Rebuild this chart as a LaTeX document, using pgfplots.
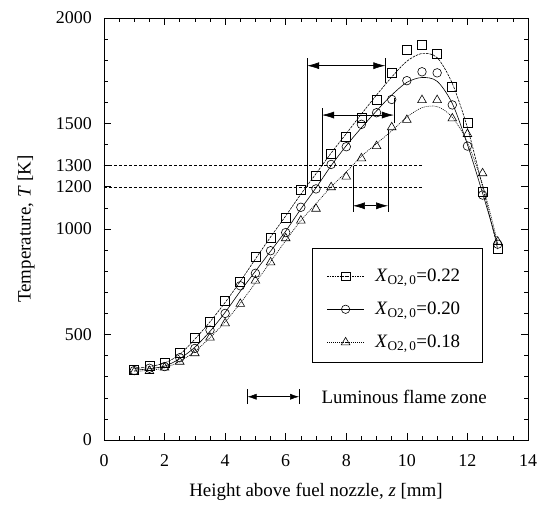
\documentclass[border=0pt]{standalone}
\usepackage{fontspec}
\setmainfont{Liberation Serif}
\usepackage{pgfplots}
\pgfplotsset{compat=1.18}
\usetikzlibrary{arrows.meta}

\begin{document}
\begin{tikzpicture}
\path[use as bounding box] (-104bp,-65bp) rectangle (437bp,440bp);
\begin{axis}[
  at={(0,0)}, anchor=south west,
  scale only axis, width=424bp, height=422bp,
  xmin=0, xmax=14, ymin=0, ymax=2000,
  xtick={0,2,...,14},
  minor xtick={0.5,1,...,13.5},
  ytick={0,500,1000,1200,1300,1500,2000},
  minor ytick={100,200,...,1900},
  tick align=inside, tick pos=both,
  major tick length=7bp, minor tick length=4bp,
  every tick/.style={black, line width=0.6pt},
  axis line style={line width=0.8pt},
  /pgf/number format/assume math mode=true,
  /pgf/number format/1000 sep={},
  ticklabel style={font=\fontsize{18}{20}\selectfont},
  xticklabel style={anchor=north, inner sep=0pt, yshift=-14bp},
  yticklabel style={anchor=east, inner sep=0pt, xshift=-12bp},
  xlabel={Height above fuel nozzle, \textit{z} [mm]},
  ylabel={Temperature, \textit{T} [K]},
  label style={font=\fontsize{19}{22}\selectfont},
  xlabel style={at={(axis description cs:0.5,-0.123)}, anchor=center},
  ylabel style={at={(axis description cs:-0.184,0.5)}, anchor=center},
  legend style={at={(axis cs:7.35,820)}, anchor=north west, draw=none, fill=none,
    font=\fontsize{19}{21}\selectfont, row sep=15bp, inner sep=0pt,
    /tikz/every odd column/.append style={column sep=9bp}},
  legend cell align=left,
  legend image code/.code={\draw[mark repeat=2,mark phase=2,#1] plot coordinates {(0bp,0bp) (18.5bp,0bp) (37bp,0bp)};},
]
% fitted curves
\addplot[black, line width=0.6pt, dash pattern=on 2.5bp off 1bp, smooth, forget plot] coordinates {
(1,338)(1.5,348)(2,365)(2.5,405)(3,478)(3.5,560)(4,652)(4.5,752)(5,858)(5.5,962)(6,1062)(6.5,1165)(7,1262)(7.5,1360)(8,1452)(8.5,1545)(9,1635)(9.5,1720)(10,1795)(10.5,1832)(11,1812)(11.5,1690)(12,1480)(12.5,1200)(13,905)};
\addplot[black, line width=0.6pt, smooth, forget plot] coordinates {
(1,330)(1.5,338)(2,350)(2.5,385)(3,440)(3.5,515)(4,605)(4.5,705)(5,800)(5.5,895)(6,990)(6.5,1095)(7,1195)(7.5,1300)(8,1395)(8.5,1480)(9,1560)(9.5,1635)(10,1695)(10.5,1718)(11,1700)(11.5,1595)(12,1400)(12.5,1170)(13,925)};
\addplot[black, line width=0.6pt, dash pattern=on 1bp off 1bp, smooth, forget plot] coordinates {
(1,325)(1.5,330)(2,342)(2.5,372)(3,420)(3.5,485)(4,560)(4.5,648)(5,745)(5.5,845)(6,945)(6.5,1040)(7,1120)(7.5,1200)(8,1270)(8.5,1345)(9,1405)(9.5,1465)(10,1530)(10.5,1575)(11,1580)(11.5,1530)(12,1410)(12.5,1210)(13,935)};
% measured points
\addplot[black, only marks, mark=square, mark size=4.5bp, mark options={line width=0.6pt}, forget plot] coordinates {
(1,335)(1.5,351)(2,368)(2.5,411)(3,482)(3.5,561)(4,659)(4.5,750)(5,869)(5.5,960)(6,1055)(6.5,1188)(7,1253)(7.5,1355)(8,1438)(8.5,1528)(9,1614)(9.5,1742)(10,1851)(10.5,1872)(11,1828)(11.5,1675)(12,1501)(12.5,1177)(13,904)};
\addplot[black, only marks, mark=o, mark size=4.3bp, mark options={line width=0.6pt}, forget plot] coordinates {
(1,329)(1.5,340)(2,348)(2.5,390)(3,434)(3.5,521)(4,600)(4.5,731)(5,790)(5.5,897)(6,983)(6.5,1103)(7,1190)(7.5,1306)(8,1390)(8.5,1496)(9,1551)(9.5,1614)(10,1703)(10.5,1745)(11,1740)(11.5,1588)(12,1393)(12.5,1161)(13,928)};
\addplot[black, only marks, mark=triangle, mark size=5bp, mark options={line width=0.6pt}, forget plot] coordinates {
(1,324)(1.5,327)(2,343)(2.5,371)(3,411)(3.5,485)(4,553)(4.5,645)(5,755)(5.5,842)(6,956)(6.5,1040)(7,1096)(7.5,1198)(8,1248)(8.5,1335)(9,1393)(9.5,1482)(10,1517)(10.5,1611)(11,1611)(11.5,1524)(12,1450)(12.5,1264)(13,940)};
% legend
\addlegendimage{black, line width=0.6pt, dash pattern=on 1.5bp off 1bp, mark=square, mark size=4.3bp, mark options={solid}}
\addlegendentry{\textit{X}\textsubscript{O2,\,0}=0.22}
\addlegendimage{black, line width=0.6pt, mark=o, mark size=4.2bp}
\addlegendentry{\textit{X}\textsubscript{O2,\,0}=0.20}
\addlegendimage{black, line width=0.6pt, dash pattern=on 1bp off 1bp, mark=triangle, mark size=5bp, mark options={solid}}
\addlegendentry{\textit{X}\textsubscript{O2,\,0}=0.18}
\draw[line width=0.7pt] (axis cs:6.87,910) rectangle (axis cs:12.48,370);
% reference temperature lines
\draw[line width=0.5pt, dash pattern=on 3bp off 2bp] (axis cs:0,1300) -- (axis cs:10.55,1300);
\draw[line width=0.5pt, dash pattern=on 3bp off 2bp] (axis cs:0,1200) -- (axis cs:10.55,1200);
% luminous zone brackets
\draw[line width=0.6pt] (axis cs:6.71,1200) -- (axis cs:6.71,1809);
\draw[line width=0.6pt] (axis cs:9.29,1690) -- (axis cs:9.29,1809);
\draw[line width=0.6pt, {Latex[length=12bp,width=7bp]}-{Latex[length=12bp,width=7bp]}] (axis cs:6.71,1774) -- (axis cs:9.29,1774);
\draw[line width=0.6pt] (axis cs:7.2,1300) -- (axis cs:7.2,1575);
\draw[line width=0.6pt] (axis cs:9.57,1500) -- (axis cs:9.57,1620);
\draw[line width=0.6pt, {Latex[length=12bp,width=7bp]}-{Latex[length=12bp,width=7bp]}] (axis cs:7.2,1540) -- (axis cs:9.57,1540);
\draw[line width=0.6pt] (axis cs:8.22,1300) -- (axis cs:8.22,1082);
\draw[line width=0.6pt] (axis cs:9.38,1469) -- (axis cs:9.38,1082);
\draw[line width=0.6pt, {Latex[length=12bp,width=7bp]}-{Latex[length=12bp,width=7bp]}] (axis cs:8.22,1110) -- (axis cs:9.38,1110);
% luminous zone key
\draw[line width=0.6pt] (axis cs:4.74,170) -- (axis cs:4.74,240);
\draw[line width=0.6pt] (axis cs:6.44,170) -- (axis cs:6.44,240);
\draw[line width=0.5pt, {Latex[length=9bp,width=6bp]}-{Latex[length=9bp,width=6bp]}] (axis cs:4.74,205) -- (axis cs:6.44,205);
\node[anchor=west, inner sep=0pt, font=\fontsize{19}{22}\selectfont] at (axis cs:7.18,205) {Luminous flame zone};
\end{axis}
\end{tikzpicture}
\end{document}
